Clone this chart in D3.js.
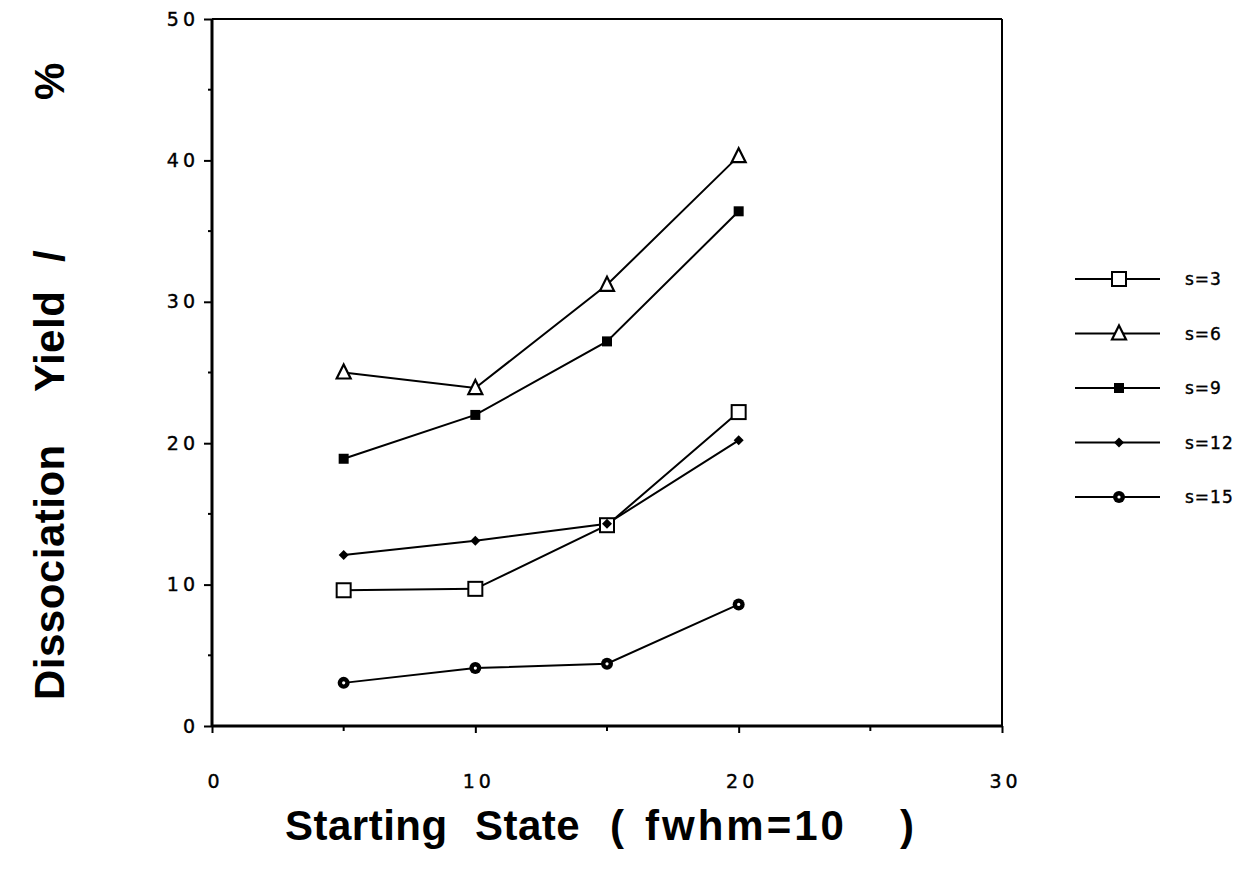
<!DOCTYPE html>
<html>
<head>
<meta charset="utf-8">
<script src="https://cdn.jsdelivr.net/npm/d3@7"></script>
<style>
  html, body { margin: 0; padding: 0; background: #fff; }
  svg { display: block; }
  text { font-family: "Liberation Sans", Arial, Helvetica, sans-serif; fill: #000; }
  .tick text, .legend-label { font-family: "DejaVu Sans", sans-serif; stroke: #000; stroke-width: 0.4px; }
</style>
</head>
<body>
<svg id="chart" width="1253" height="876"></svg>
<script>
// Starting states (x values)
const states = [5, 10, 15, 20];
// Dissociation yield (%) per series
const s3  = [9.6, 9.7, 14.2, 22.2];
const s6  = [25.0, 23.9, 31.2, 40.3];
const s9  = [18.9, 22.0, 27.2, 36.4];
const s12 = [12.1, 13.1, 14.3, 20.2];
const s15 = [3.05, 4.1, 4.4, 8.6];
const seriesNames = ["s=3", "s=6", "s=9", "s=12", "s=15"];
const seriesMarkers = ["openSquare", "openTriangle", "filledSquare", "diamond", "circle"];
const xTicks = [0, 10, 20, 30];
const yTicks = [0, 10, 20, 30, 40, 50];
const xTitleWords = ["Starting", "State", "(", "fwhm=10", ")"];
const yTitleWords = ["Dissociation", "Yield", "/", "%"];

const series = [s3, s6, s9, s12, s15].map((vals, i) => ({
  name: seriesNames[i], marker: seriesMarkers[i],
  pts: states.map((x, j) => ({ x, y: vals[j] }))
}));

const svg = d3.select("#chart");
const x = d3.scaleLinear().domain([0, 30]).range([212, 1002]);
const y = d3.scaleLinear().domain([0, 50]).range([726, 19]);

// frame: top and right edges
svg.append("line").attr("x1", x(0)).attr("x2", x(30)).attr("y1", y(50)).attr("y2", y(50))
  .attr("stroke", "#000").attr("stroke-width", 2);
svg.append("line").attr("x1", x(30)).attr("x2", x(30)).attr("y1", y(50)).attr("y2", y(0))
  .attr("stroke", "#000").attr("stroke-width", 2);

// minor ticks
const gMinor = svg.append("g");
[5, 15, 25].forEach(v => gMinor.append("line").attr("x1", x(v)).attr("x2", x(v))
  .attr("y1", y(0)).attr("y2", y(0) + 5).attr("stroke", "#000").attr("stroke-width", 2));
[5, 15, 25, 35, 45].forEach(v => gMinor.append("line").attr("x1", x(0) - 4).attr("x2", x(0))
  .attr("y1", y(v)).attr("y2", y(v)).attr("stroke", "#000").attr("stroke-width", 2));

// axes
const xAxis = d3.axisBottom(x).tickValues(xTicks).tickSize(7).tickPadding(42).tickFormat(d3.format("d"));
const yAxis = d3.axisLeft(y).tickValues(yTicks).tickSize(8).tickPadding(5).tickFormat(d3.format("d"));
const gx = svg.append("g").attr("transform", `translate(0,${y(0)})`).call(xAxis);
const gy = svg.append("g").attr("transform", `translate(${x(0)},0)`).call(yAxis);
[gx, gy].forEach(g => {
  g.attr("font-size", 19).attr("font-family", "DejaVu Sans");
  g.selectAll(".tick line").attr("stroke-width", 2);
  g.selectAll(".tick text").attr("font-size", 19).style("font-size", "19px").style("letter-spacing", "4px");
});
gx.select(".domain").attr("stroke-width", 3).attr("d", `M${x(0)},0H${x(30)}`);
gy.select(".domain").attr("stroke-width", 3).attr("d", `M0,${y(0)}V${y(50)}`);
gx.selectAll(".tick text").attr("dx", 3);

// marker drawing
function drawMarker(g, type, cx, cy) {
  switch (type) {
    case "openSquare":
      g.append("rect").attr("x", cx - 7).attr("y", cy - 7).attr("width", 14).attr("height", 14)
        .attr("fill", "#fff").attr("stroke", "#000").attr("stroke-width", 2);
      break;
    case "openTriangle":
      g.append("path").attr("d", `M${cx},${cy - 8}L${cx + 7},${cy + 6}L${cx - 7},${cy + 6}Z`)
        .attr("fill", "#fff").attr("stroke", "#000").attr("stroke-width", 2.2);
      break;
    case "filledSquare":
      g.append("rect").attr("x", cx - 5).attr("y", cy - 5).attr("width", 10).attr("height", 10)
        .attr("fill", "#000");
      break;
    case "diamond":
      g.append("path").attr("d", `M${cx},${cy - 5}L${cx + 5},${cy}L${cx},${cy + 5}L${cx - 5},${cy}Z`)
        .attr("fill", "#000");
      break;
    case "circle":
      g.append("circle").attr("cx", cx).attr("cy", cy).attr("r", 6).attr("fill", "#000");
      g.append("circle").attr("cx", cx).attr("cy", cy).attr("r", 1.6).attr("fill", "#fff");
      break;
  }
}

// series lines and markers
const line = d3.line().x(d => x(d.x)).y(d => y(d.y));
series.forEach(s => {
  svg.append("path").datum(s.pts).attr("d", line)
    .attr("fill", "none").attr("stroke", "#000").attr("stroke-width", 2);
});
series.forEach(s => {
  const g = svg.append("g");
  s.pts.forEach(p => drawMarker(g, s.marker, x(p.x), y(p.y)));
});

// legend
const legendY = d3.scalePoint().domain(seriesNames).range([279, 497]);
series.forEach(s => {
  const ly = legendY(s.name);
  const g = svg.append("g");
  g.append("line").attr("x1", 1075).attr("x2", 1160).attr("y1", ly).attr("y2", ly)
    .attr("stroke", "#000").attr("stroke-width", 2);
  drawMarker(g, s.marker, 1119, ly);
  g.append("text").attr("class", "legend-label").attr("x", 1185).attr("y", ly + 6)
    .style("font-size", "17px").style("letter-spacing", "1px").text(s.name);
});

// axis titles, words spread along the axis
const xWordStart = [285, 475, 610, 645, 900];
const xWordSpacing = [0.5, 0.5, 0, 3, 0];
const gxt = svg.append("g");
xTitleWords.forEach((w, i) => {
  gxt.append("text").attr("x", xWordStart[i]).attr("y", 840)
    .style("font-size", "42px").style("font-weight", "bold").style("letter-spacing", xWordSpacing[i] + "px")
    .text(w);
});
const yWordStart = [700, 392, 262, 100];
const gyt = svg.append("g");
yTitleWords.forEach((w, i) => {
  gyt.append("text").attr("transform", `translate(64,${yWordStart[i]}) rotate(-90)`)
    .style("font-size", "42px").style("font-weight", "bold").style("letter-spacing", "0.5px")
    .text(w);
});
</script>
</body>
</html>
